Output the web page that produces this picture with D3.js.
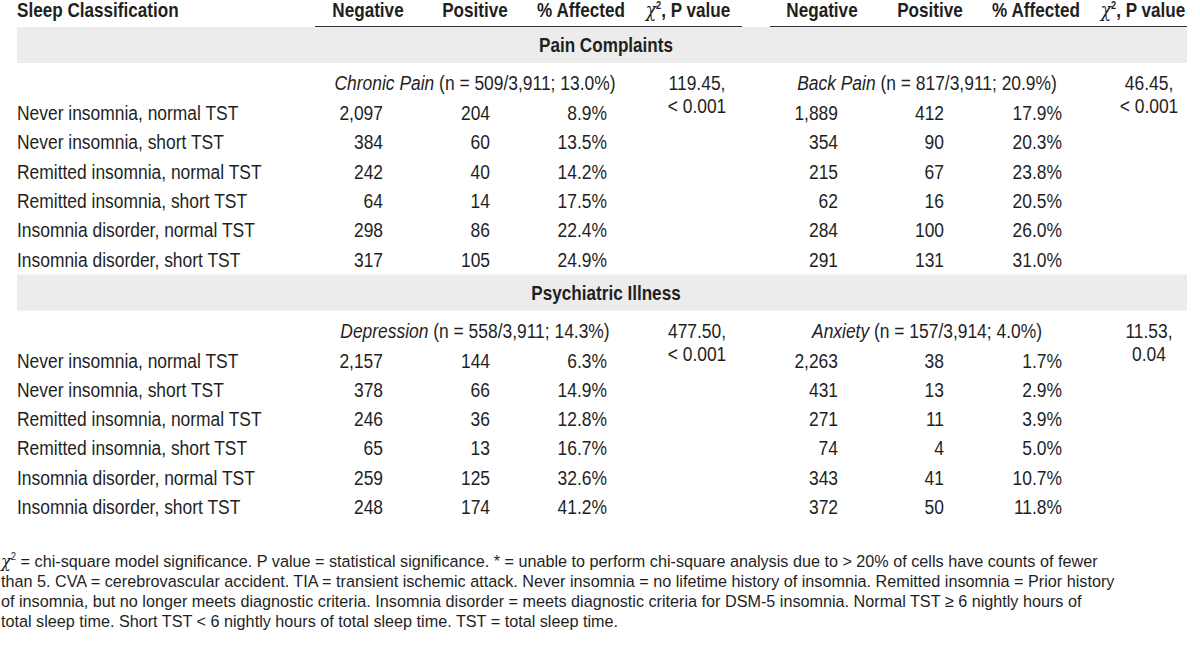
<!DOCTYPE html>
<html>
<head>
<meta charset="utf-8">
<script src="https://cdn.jsdelivr.net/npm/d3@7"></script>
<style>
  html, body { margin: 0; padding: 0; background: #ffffff; }
  svg { display: block; }
  text { font-family: "Liberation Sans Narrow", "Arial Narrow", "Liberation Sans", Arial, sans-serif; fill: #1f1f1f; }
</style>
</head>
<body>
<svg id="chart" width="1200" height="647"></svg>
<script>
// ---------------- DATA ----------------
const sleepCategories = [
  "Never insomnia, normal TST",
  "Never insomnia, short TST",
  "Remitted insomnia, normal TST",
  "Remitted insomnia, short TST",
  "Insomnia disorder, normal TST",
  "Insomnia disorder, short TST"
];
const columnHeaders = ["Negative", "Positive", "% Affected"];
const sectionTitles = ["Pain Complaints", "Psychiatric Illness"];

const chronicPainNeg = [2097, 384, 242, 64, 298, 317];
const chronicPainPos = [204, 60, 40, 14, 86, 105];
const chronicPainPct = [8.9, 13.5, 14.2, 17.5, 22.4, 24.9];

const backPainNeg = [1889, 354, 215, 62, 284, 291];
const backPainPos = [412, 90, 67, 16, 100, 131];
const backPainPct = [17.9, 20.3, 23.8, 20.5, 26.0, 31.0];

const depressionNeg = [2157, 378, 246, 65, 259, 248];
const depressionPos = [144, 66, 36, 13, 125, 174];
const depressionPct = [6.3, 14.9, 12.8, 16.7, 32.6, 41.2];

const anxietyNeg = [2263, 431, 271, 74, 343, 372];
const anxietyPos = [38, 13, 11, 4, 41, 50];
const anxietyPct = [1.7, 2.9, 3.9, 5.0, 10.7, 11.8];

const outcomeNames = ["Chronic Pain", "Back Pain", "Depression", "Anxiety"];
const outcomeCounts = ["n = 509/3,911; 13.0%", "n = 817/3,911; 20.9%", "n = 558/3,911; 14.3%", "n = 157/3,914; 4.0%"];
const chiSquare = ["119.45,", "46.45,", "477.50,", "11.53,"];
const pValues = ["< 0.001", "< 0.001", "< 0.001", "0.04"];

const footnoteLines = [
  " = chi-square model significance. P value = statistical significance. * = unable to perform chi-square analysis due to > 20% of cells have counts of fewer",
  "than 5. CVA = cerebrovascular accident. TIA = transient ischemic attack. Never insomnia = no lifetime history of insomnia. Remitted insomnia = Prior history",
  "of insomnia, but no longer meets diagnostic criteria. Insomnia disorder = meets diagnostic criteria for DSM-5 insomnia. Normal TST \u2265 6 nightly hours of",
  "total sleep time. Short TST < 6 nightly hours of total sleep time. TST = total sleep time."
];

// Table built from the arrays above: [section][side]
const outcomes = [
  [
    { neg: chronicPainNeg, pos: chronicPainPos, pct: chronicPainPct, k: 0 },
    { neg: backPainNeg, pos: backPainPos, pct: backPainPct, k: 1 }
  ],
  [
    { neg: depressionNeg, pos: depressionPos, pct: depressionPct, k: 2 },
    { neg: anxietyNeg, pos: anxietyPos, pct: anxietyPct, k: 3 }
  ]
];

// ---------------- LAYOUT ----------------
const svg = d3.select("#chart");
const fmtInt = d3.format(",");
const fmtPct = v => d3.format(".1f")(v) + "%";

const tableLeft = 17, tableRight = 1187;
const mainSize = 21, headSize = 20.5, footSize = 17;
// horizontal condensing (the reference uses a narrow face)
const kMain = 0.83, kHead = 0.835, kFoot = 0.953;

function placeAt(sel, x, y, k) {
  return sel.attr("transform", (d, i) => {
    const xx = typeof x === "function" ? x(d, i) : x;
    const yy = typeof y === "function" ? y(d, i) : y;
    return `translate(${xx},${yy}) scale(${k},1)`;
  });
}

// column anchors per side
const colKeys = ["neg", "pos", "pct", "chi", "hNeg", "hPos", "hPct", "hChi", "sub", "lineL", "lineR"];
const colX = [
  d3.scaleOrdinal().domain(colKeys).range([383, 490, 607, 697, 368, 475, 581, 688, 475, 315, 742]),
  d3.scaleOrdinal().domain(colKeys).range([838, 944, 1062, 1149, 822, 930, 1036, 1143, 927, 770, 1187])
];

// vertical positions
const sectionTop = d3.scaleLinear().domain([0, 1]).range([27, 274.5]);
const rowY = d3.scalePoint().domain(d3.range(sleepCategories.length)).range([93, 239.6]);
const bandH = 36;

// ---------------- HEADER ----------------
placeAt(svg.append("text"), tableLeft, 16.5, kHead)
  .attr("font-size", headSize).attr("font-weight", "bold")
  .text("Sleep Classification");

[0, 1].forEach(side => {
  const sx = colX[side];
  ["hNeg", "hPos", "hPct"].forEach((key, i) => {
    placeAt(svg.append("text"), sx(key), 16.5, kHead)
      .attr("text-anchor", "middle")
      .attr("font-size", headSize).attr("font-weight", "bold")
      .text(columnHeaders[i]);
  });
  const chiHead = placeAt(svg.append("text"), sx("hChi"), 16.5, kHead)
    .attr("text-anchor", "middle")
    .attr("font-size", headSize).attr("font-weight", "bold");
  chiHead.append("tspan").attr("font-family", "'DejaVu Serif', serif").attr("font-style", "italic").attr("font-weight", "normal").text("\u03C7");
  chiHead.append("tspan").attr("font-size", 11).attr("dy", -8).text("2");
  chiHead.append("tspan").attr("dy", 8).text(", P value");

  svg.append("line")
    .attr("x1", sx("lineL")).attr("x2", sx("lineR"))
    .attr("y1", 26.5).attr("y2", 26.5)
    .attr("stroke", "#333").attr("stroke-width", 1.2);
});

// ---------------- SECTIONS ----------------
outcomes.forEach((sectionData, s) => {
  const top = sectionTop(s);

  svg.append("rect")
    .attr("x", tableLeft).attr("y", top)
    .attr("width", tableRight - tableLeft).attr("height", bandH)
    .attr("fill", "#ececec");

  placeAt(svg.append("text"), (tableLeft + tableRight) / 2 + 4, top + 25, kHead)
    .attr("text-anchor", "middle")
    .attr("font-size", headSize).attr("font-weight", "bold")
    .text(sectionTitles[s]);

  // row labels
  placeAt(svg.append("g").selectAll("text")
    .data(sleepCategories)
    .join("text"), tableLeft, (d, i) => top + rowY(i), kMain)
    .attr("font-size", mainSize)
    .text(d => d);

  sectionData.forEach((o, side) => {
    const sx = colX[side];
    // subheader
    const sub = placeAt(svg.append("text"), sx("sub"), top + 63, kMain)
      .attr("text-anchor", "middle")
      .attr("font-size", mainSize);
    sub.append("tspan").attr("font-style", "italic").text(outcomeNames[o.k]);
    sub.append("tspan").text(" (" + outcomeCounts[o.k] + ")");

    // chi-square / p
    placeAt(svg.append("text"), sx("chi"), top + 63, kMain)
      .attr("text-anchor", "middle").attr("font-size", mainSize)
      .text(chiSquare[o.k]);
    placeAt(svg.append("text"), sx("chi"), top + 86, kMain)
      .attr("text-anchor", "middle").attr("font-size", mainSize)
      .text(pValues[o.k]);

    const g = svg.append("g").attr("font-size", mainSize).attr("text-anchor", "end");
    placeAt(g.selectAll("text.neg").data(o.neg).join("text").attr("class", "neg"),
      sx("neg"), (d, i) => top + rowY(i), kMain).text(d => fmtInt(d));
    placeAt(g.selectAll("text.pos").data(o.pos).join("text").attr("class", "pos"),
      sx("pos"), (d, i) => top + rowY(i), kMain).text(d => fmtInt(d));
    placeAt(g.selectAll("text.pct").data(o.pct).join("text").attr("class", "pct"),
      sx("pct"), (d, i) => top + rowY(i), kMain).text(d => fmtPct(d));
  });
});

// ---------------- FOOTNOTE ----------------
const footY = d3.scalePoint().domain(d3.range(footnoteLines.length)).range([567, 627]);
footnoteLines.forEach((line, i) => {
  const t = placeAt(svg.append("text"), 1, footY(i), kFoot)
    .attr("font-size", footSize);
  if (i === 0) {
    t.append("tspan").attr("font-family", "'DejaVu Serif', serif").attr("font-style", "italic").text("\u03C7");
    t.append("tspan").attr("font-size", 10).attr("dy", -7).text("2");
    t.append("tspan").attr("dy", 7).text(line);
  } else {
    t.text(line);
  }
});
</script>
</body>
</html>
